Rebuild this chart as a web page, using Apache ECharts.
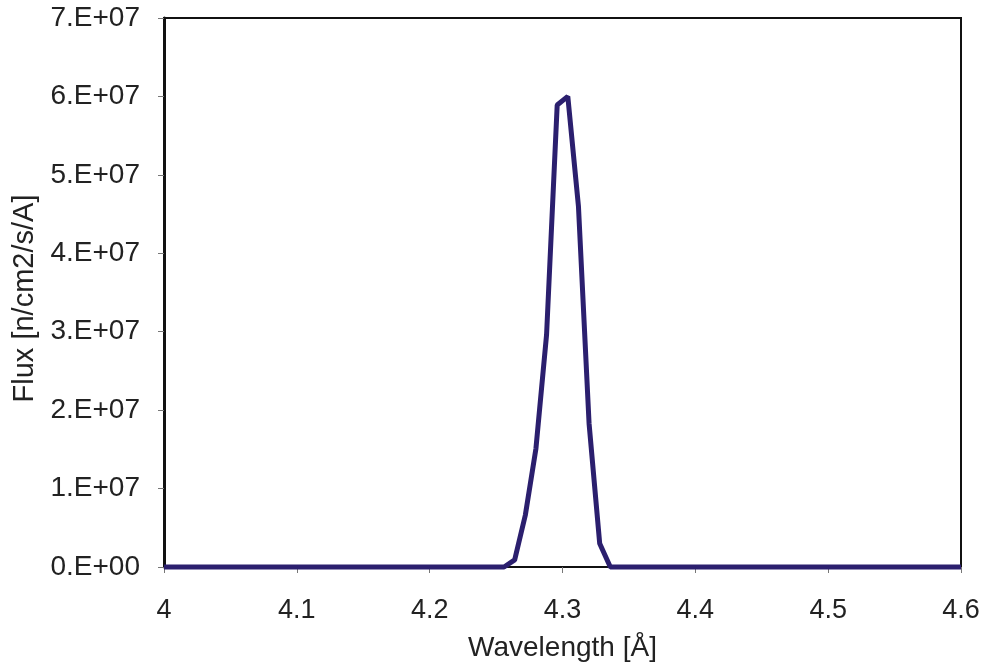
<!DOCTYPE html>
<html>
<head>
<meta charset="utf-8">
<script src="https://cdn.jsdelivr.net/npm/echarts@6/dist/echarts.min.js"></script>
<style>
html,body{margin:0;padding:0;background:#fff;}
#chart{width:982px;height:672px;}
</style>
</head>
<body>
<div id="chart"></div>
<script>
const wavelength = [4.0, 4.256, 4.264, 4.272, 4.280, 4.288, 4.296, 4.304, 4.312, 4.320, 4.328, 4.336, 4.6];
const flux = [0, 0, 0.9e6, 6.6e6, 1.51e7, 2.96e7, 5.89e7, 6.0e7, 4.6e7, 1.83e7, 3.0e6, 0, 0];
const xTicks = [4, 4.1, 4.2, 4.3, 4.4, 4.5, 4.6];
const yTickLabels = ['0.E+00','1.E+07','2.E+07','3.E+07','4.E+07','5.E+07','6.E+07','7.E+07'];

const chart = echarts.init(document.getElementById('chart'), null, {renderer:'canvas'});
const font = 'Liberation Sans, Arial, sans-serif';
chart.setOption({
  backgroundColor: '#ffffff',
  animation: false,
  grid: {left: 164, right: 21, top: 18, bottom: 105, show: true, borderColor: '#111', borderWidth: 2,
    backgroundColor: 'transparent', outerBoundsMode: 'none', containLabel: false},
  xAxis: {
    type: 'value', min: 4, max: 4.6, interval: 0.1,
    name: 'Wavelength [Å]', nameLocation: 'middle', nameGap: 67,
    nameTextStyle: {fontFamily: font, fontSize: 28, color: '#222'},
    axisLine: {show: true, onZero: false, lineStyle: {color: '#111', width: 2}},
    axisTick: {show: true, length: 6, lineStyle: {color: '#777', width: 1}},
    splitLine: {show: false},
    axisLabel: {fontFamily: font, fontSize: 27, color: '#222', margin: 30,
      formatter: v => { const t = xTicks.find(a => Math.abs(a - v) < 1e-6); return t === undefined ? '' : String(t); }}
  },
  yAxis: {
    type: 'value', min: 0, max: 7e7, interval: 1e7,
    name: 'Flux [n/cm2/s/A]', nameLocation: 'middle', nameGap: 125, nameRotate: 90,
    nameTextStyle: {fontFamily: font, fontSize: 29, color: '#222', padding: [0, 12, 0, 0]},
    axisLine: {show: true, lineStyle: {color: '#111', width: 3}},
    axisTick: {show: true, length: 6, lineStyle: {color: '#777', width: 1}},
    splitLine: {show: false},
    axisLabel: {fontFamily: font, fontSize: 28, color: '#222', margin: 24,
      formatter: v => yTickLabels[Math.round(v / 1e7)]}
  },
  series: [{
    type: 'line',
    data: wavelength.map((x, i) => [x, flux[i]]),
    showSymbol: false,
    lineStyle: {color: '#2b1f6e', width: 5},
    itemStyle: {color: '#2b1f6e'},
    clip: false
  }]
});
</script>
</body>
</html>
